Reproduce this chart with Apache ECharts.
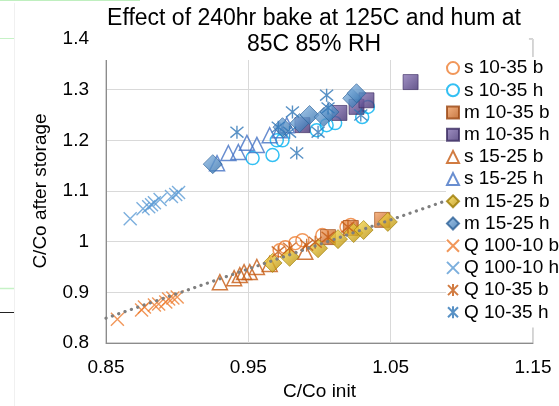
<!DOCTYPE html>
<html>
<head>
<meta charset="utf-8">
<script src="https://cdn.jsdelivr.net/npm/echarts@6/dist/echarts.min.js"></script>
<style>html,body{margin:0;padding:0;background:#fff}#c{width:559px;height:406px}</style>
</head>
<body>
<div id="c"></div>
<script>
// ---- data ----
const seriesNames = ['s 10-35 b','s 10-35 h','m 10-35 b','m 10-35 h','s 15-25 b','s 15-25 h','m 15-25 b','m 15-25 h','Q 100-10 b','Q 100-10 h','Q 10-35 b','Q 10-35 h'];

const s1035b_x = [0.972, 0.976, 0.983, 0.988, 1.002, 1.019, 1.022];
const s1035b_y = [0.983, 0.989, 0.997, 1.003, 1.013, 1.029, 1.033];

const s1035h_x = [0.953, 0.967, 0.970, 0.974, 0.998, 1.005, 1.011, 1.030, 1.034];
const s1035h_y = [1.165, 1.171, 1.200, 1.200, 1.220, 1.230, 1.234, 1.246, 1.266];

const m1035b_x = [1.006, 1.022, 1.044];
const m1035b_y = [1.009, 1.027, 1.043];

const m1035h_x = [0.988, 1.014, 1.026, 1.033, 1.064];
const m1035h_y = [1.230, 1.254, 1.266, 1.279, 1.315];

const s1525b_x = [0.930, 0.940, 0.944, 0.947, 0.951, 0.956, 0.965, 0.990];
const s1525b_y = [0.920, 0.928, 0.934, 0.940, 0.940, 0.950, 0.956, 0.980];

const s1525h_x = [0.928, 0.936, 0.943, 0.949, 0.956, 0.965, 0.972, 0.977];
const s1525h_y = [1.155, 1.175, 1.177, 1.195, 1.191, 1.210, 1.220, 1.230];

const m1525b_x = [0.967, 0.979, 0.999, 1.013, 1.024, 1.031, 1.048];
const m1525b_y = [0.958, 0.970, 0.987, 1.005, 1.017, 1.023, 1.039];

const m1525h_x = [0.925, 0.974, 0.986, 0.993, 1.003, 1.007, 1.023, 1.026];
const m1525h_y = [1.153, 1.226, 1.234, 1.250, 1.246, 1.256, 1.283, 1.293];

const q10010b_x = [0.858, 0.875, 0.877, 0.884, 0.887, 0.892, 0.894, 0.897, 0.900];
const q10010b_y = [0.847, 0.865, 0.871, 0.875, 0.877, 0.881, 0.887, 0.889, 0.891];

const q10010h_x = [0.867, 0.876, 0.880, 0.882, 0.884, 0.888, 0.896, 0.899, 0.901];
const q10010h_y = [1.045, 1.065, 1.069, 1.073, 1.077, 1.083, 1.089, 1.093, 1.097];

const q1035b_x = [0.971, 0.979, 0.991, 0.997, 1.006, 1.020];
const q1035b_y = [0.980, 0.987, 0.993, 0.999, 1.009, 1.029];

const q1035h_x = [0.942, 0.971, 0.979, 0.981, 0.984, 0.999, 1.005, 1.006, 1.029];
const q1035h_y = [1.216, 1.226, 1.216, 1.256, 1.175, 1.216, 1.289, 1.264, 1.250];

const trend_x = [0.85, 1.15];
const trend_y = [0.849, 1.140];

const xTicks = [0.85, 0.95, 1.05, 1.15];
const yTicks = [0.8, 0.9, 1.0, 1.1, 1.2, 1.3, 1.4];

// ---- styling ----
const FONT = 'Liberation Sans';
const zip = (xs, ys) => xs.map((x, i) => [x, ys[i]]);
const XPATH = 'path://M0,0L10,10M10,0L0,10';
const STARPATH = 'path://M0,0L10,10M10,0L0,10M5,-1L5,11';
function grad(c1, c2) {
  return {type: 'linear', x: 0, y: 0, x2: 1, y2: 1, colorStops: [{offset: 0, color: c1}, {offset: 1, color: c2}]};
}
function hollow(name, xs, ys, symbol, color, size, bw) {
  return {name, type: 'scatter', data: zip(xs, ys), symbol, symbolSize: size,
    itemStyle: {color: 'rgba(255,255,255,0)', borderColor: color, borderWidth: bw}};
}
function solid(name, xs, ys, symbol, c1, c2, edge, size) {
  return {name, type: 'scatter', data: zip(xs, ys), symbol, symbolSize: size,
    itemStyle: {color: grad(c1, c2), borderColor: edge, borderWidth: 0.8}};
}

const series = [
  hollow(seriesNames[0], s1035b_x, s1035b_y, 'circle', '#ED7D31', 13, 1.5),
  hollow(seriesNames[1], s1035h_x, s1035h_y, 'circle', '#00B0F0', 13, 1.5),
  solid(seriesNames[2], m1035b_x, m1035b_y, 'rect', '#F6A66A', '#B4500E', '#9A4510', 15),
  solid(seriesNames[3], m1035h_x, m1035h_y, 'rect', '#8C78B8', '#3E2C6E', '#3A2A60', 15),
  hollow(seriesNames[4], s1525b_x, s1525b_y, 'triangle', '#C55A11', 15, 1.5),
  hollow(seriesNames[5], s1525h_x, s1525h_y, 'triangle', '#4472C4', 15, 1.5),
  solid(seriesNames[6], m1525b_x, m1525b_y, 'diamond', '#FFE45C', '#B38600', '#9C7A00', 19),
  solid(seriesNames[7], m1525h_x, m1525h_y, 'diamond', '#8FBCE6', '#2C6AA8', '#2A5F96', 19),
  hollow(seriesNames[8], q10010b_x, q10010b_y, XPATH, '#ED7D31', 13, 1.4),
  hollow(seriesNames[9], q10010h_x, q10010h_y, XPATH, '#5B9BD5', 13, 1.4),
  hollow(seriesNames[10], q1035b_x, q1035b_y, STARPATH, '#C55A11', 13, 1.4),
  hollow(seriesNames[11], q1035h_x, q1035h_y, STARPATH, '#2E75B6', 13, 1.4),
  {name: 'trend', type: 'line', data: zip(trend_x, trend_y), showSymbol: false, symbol: 'none', silent: true, z: 3,
    lineStyle: {color: '#7F7F7F', width: 3.2, type: [0.1, 6.6], cap: 'round'}}
];

const chart = echarts.init(document.getElementById('c'), null, {renderer: 'canvas'});
chart.setOption({
  animation: false,
  backgroundColor: '#fff',
  textStyle: {fontFamily: FONT},
  title: {
    text: 'Effect of 240hr bake at 125C and hum at\n85C 85% RH',
    left: 306, top: 1, textAlign: 'center', z: 5,
    backgroundColor: '#fff', padding: [5, 8, 2, 8],
    textStyle: {fontFamily: FONT, fontSize: 23, fontWeight: 'normal', color: '#000', lineHeight: 26}
  },
  grid: {left: 106, right: 26, top: 39, bottom: 63, show: true, borderColor: '#A6A6A6', borderWidth: 1, containLabel: false},
  xAxis: {
    type: 'value', min: xTicks[0], max: xTicks[xTicks.length - 1], interval: 0.1,
    name: 'C/Co init', nameLocation: 'middle', nameGap: 35,
    nameTextStyle: {fontFamily: FONT, fontSize: 19, color: '#000'},
    axisLine: {show: true, lineStyle: {color: '#8C8C8C', width: 1}},
    axisTick: {show: false},
    axisLabel: {fontFamily: FONT, fontSize: 19, color: '#000', margin: 15, formatter: v => String(Math.round(v * 100) / 100)},
    splitLine: {show: true, lineStyle: {color: '#D9D9D9', width: 1}}
  },
  yAxis: {
    type: 'value', min: yTicks[0], max: yTicks[yTicks.length - 1], interval: 0.1,
    name: 'C/Co after storage', nameLocation: 'middle', nameGap: 56,
    nameTextStyle: {fontFamily: FONT, fontSize: 19, color: '#000'},
    axisLine: {show: true, lineStyle: {color: '#8C8C8C', width: 1}},
    axisTick: {show: false},
    axisLabel: {fontFamily: FONT, fontSize: 19, color: '#000', margin: 17, formatter: v => String(Math.round(v * 10) / 10)},
    splitLine: {show: true, lineStyle: {color: '#D9D9D9', width: 1}}
  },
  legend: {
    data: seriesNames, orient: 'vertical', left: 446, top: 57, z: 8,
    backgroundColor: '#fff', padding: [0, 0, 4, 0], itemGap: 0,
    itemWidth: 12, itemHeight: 12,
    textStyle: {fontFamily: FONT, fontSize: 19, color: '#000', lineHeight: 22.2}
  },
  graphic: [
    {type: 'line', shape: {x1: 14.5, y1: 3, x2: 14.5, y2: 406}, style: {stroke: '#F0F0F0', lineWidth: 1}},
    {type: 'line', shape: {x1: 0, y1: 0.5, x2: 140, y2: 0.5}, style: {stroke: '#BFEFBF', lineWidth: 1}},
    {type: 'line', shape: {x1: 0, y1: 38.5, x2: 14, y2: 38.5}, style: {stroke: '#C6F2C6', lineWidth: 1}},
    {type: 'line', shape: {x1: 0, y1: 288.5, x2: 14, y2: 288.5}, style: {stroke: '#C6F2C6', lineWidth: 1.5}},
    {type: 'line', shape: {x1: 0, y1: 312.5, x2: 14, y2: 312.5}, style: {stroke: '#222', lineWidth: 1}}
  ],
  series
});
</script>
</body>
</html>
